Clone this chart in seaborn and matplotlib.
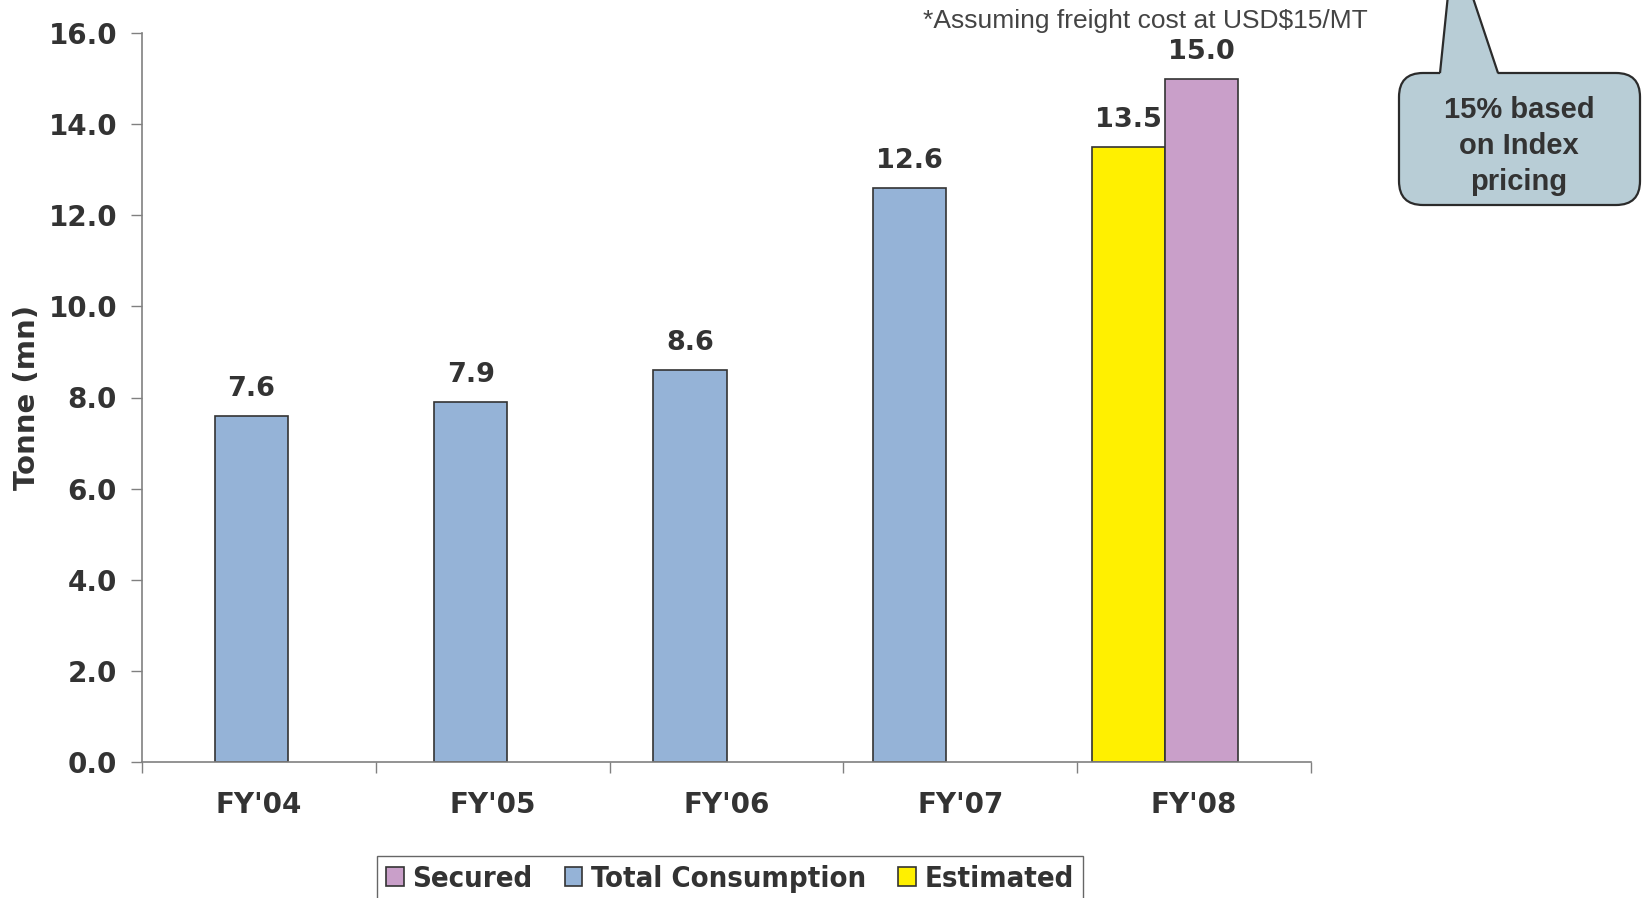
import numpy as np
import pandas as pd
import matplotlib
matplotlib.use("Agg")
import matplotlib.pyplot as plt
from matplotlib.patches import FancyBboxPatch, Polygon, Patch
from matplotlib.font_manager import FontProperties
import seaborn as sns

# ---- data -------------------------------------------------------------
periods = ["FY'04", "FY'05", "FY'06", "FY'07", "FY'08"]
total_periods = ["FY'04", "FY'05", "FY'06", "FY'07"]
total_values = [7.6, 7.9, 8.6, 12.6]
estimated_periods = ["FY'08"]
estimated_values = [13.5]
secured_periods = ["FY'08"]
secured_values = [15.0]
y_ticks = [0.0, 2.0, 4.0, 6.0, 8.0, 10.0, 12.0, 14.0, 16.0]
legend_order = ["Secured", "Total Consumption", "Estimated"]
colors = {"Secured": "#C99FC9", "Total Consumption": "#95B3D7", "Estimated": "#FFF000"}

note_text = "*Assuming freight cost at USD$15/MT"
callout_text = "15% based\non Index\npricing"

TEXT = "#333333"
EDGE = "#333333"
AXIS = "#808080"
BAR_W = 1 / 3

sns.set_theme(style="white")
plt.rcParams["font.family"] = ["DejaVu Sans"]

W, H = 1643, 898
fig = plt.figure(figsize=(W / 100, H / 100), dpi=100)
ax = fig.add_axes([142 / W, 136 / H, 1169 / W, 729 / H])

base = pd.DataFrame({
    "period": total_periods + estimated_periods,
    "value": total_values + estimated_values,
    "series": ["Total Consumption"] * len(total_values) + ["Estimated"] * len(estimated_values),
})
secured = pd.DataFrame({"period": secured_periods, "value": secured_values})

sns.barplot(data=base, x="period", y="value", hue="series", order=periods,
            hue_order=["Total Consumption", "Estimated"], palette=colors,
            saturation=1, dodge=False, width=BAR_W, edgecolor=EDGE,
            linewidth=1.2, legend=False, ax=ax)
n_first = len(ax.patches)
sns.barplot(data=secured, x="period", y="value", order=periods,
            color=colors["Secured"], saturation=1, width=BAR_W,
            edgecolor=EDGE, linewidth=1.2, ax=ax)
# secured bar sits right next to the estimated one
for p in ax.patches[n_first:]:
    p.set_x(p.get_x() + BAR_W)
for p in ax.patches:
    p.set_alpha(1)

# value labels
for p in ax.patches:
    h = p.get_height()
    if np.isnan(h) or h == 0:
        continue
    ax.annotate(f"{h:.1f}", (p.get_x() + p.get_width() / 2, h),
                xytext=(0, 10), textcoords="offset points",
                ha="center", va="bottom", fontsize=19.5, fontweight="bold",
                color=TEXT)

# axes
xmin, xmax = -0.5, len(periods) - 0.5 + BAR_W
ax.set_xlim(xmin, xmax)
ax.set_ylim(y_ticks[0], y_ticks[-1])
ax.set_yticks(y_ticks)
ax.set_yticklabels([f"{v:.1f}" for v in y_ticks], fontsize=20,
                   fontweight="bold", color=TEXT)

edges = np.linspace(xmin, xmax, len(periods) + 1)
centers = (edges[:-1] + edges[1:]) / 2
ax.set_xticks(edges)
ax.set_xticklabels([])
ax.set_xticks(centers, minor=True)
ax.set_xticklabels(periods, minor=True, fontsize=20, fontweight="bold", color=TEXT)
ax.tick_params(axis="x", which="major", direction="out", length=8, width=1,
               color=AXIS, bottom=True)
ax.tick_params(axis="x", which="minor", length=0, pad=21, bottom=True)
ax.tick_params(axis="y", direction="out", length=8, width=1, color=AXIS,
               left=True, pad=10)
ax.set_xlabel("")
ax.set_ylabel("Tonne (mn)", fontsize=21, fontweight="bold", color=TEXT)
ax.yaxis.set_label_coords(-0.086, 0.5)

for side in ("top", "right"):
    ax.spines[side].set_visible(False)
for side in ("left", "bottom"):
    ax.spines[side].set_color(AXIS)
    ax.spines[side].set_linewidth(1.2)

# legend
handles = [Patch(facecolor=colors[s], edgecolor=EDGE, linewidth=1.2) for s in legend_order]
leg_font = FontProperties(family="DejaVu Sans", stretch="condensed", weight="bold", size=21)
leg = fig.legend(handles, legend_order, loc="upper center",
                 bbox_to_anchor=(730 / W, 1 - 856 / H), ncol=3, prop=leg_font,
                 frameon=True, fancybox=False, edgecolor="#404040",
                 handlelength=0.6, handleheight=0.6, handletextpad=0.3,
                 columnspacing=1.1, borderpad=0.3, borderaxespad=0)
leg.get_frame().set_linewidth(1.0)
for t in leg.get_texts():
    t.set_color(TEXT)

# overlay in pixel units for the footnote and callout
ov = fig.add_axes([0, 0, 1, 1], zorder=5)
ov.set_xlim(0, W)
ov.set_ylim(H, 0)
ov.axis("off")
ov.patch.set_alpha(0)

ov.text(1368, 21, note_text, ha="right", va="center", fontsize=19,
        family="Liberation Sans", color="#444444")

box_fill = "#B8CDD6"
box_edge = "#2B2B2B"
bx0, by0, bx1, by1 = 1399, 73, 1640, 205
ov.add_patch(FancyBboxPatch((bx0, by0), bx1 - bx0, by1 - by0,
                            boxstyle="round,pad=0,rounding_size=24",
                            facecolor=box_fill, edgecolor=box_edge, linewidth=1.6))
tail = [(1440, by0 + 2), (1448, -5), (1472, -5), (1498, by0 + 2)]
ov.add_patch(Polygon(tail, closed=True, facecolor=box_fill, edgecolor="none"))
ov.plot([tail[0][0], tail[1][0]], [by0, tail[1][1]], color=box_edge, lw=1.6,
        solid_capstyle="butt")
ov.plot([tail[3][0], tail[2][0]], [by0, tail[2][1]], color=box_edge, lw=1.6,
        solid_capstyle="butt")
ov.text(1519, 146, callout_text, ha="center", va="center", fontsize=21,
        fontweight="bold", family="Liberation Sans", color=TEXT,
        linespacing=1.35)

fig.savefig("out.png", dpi=100)
